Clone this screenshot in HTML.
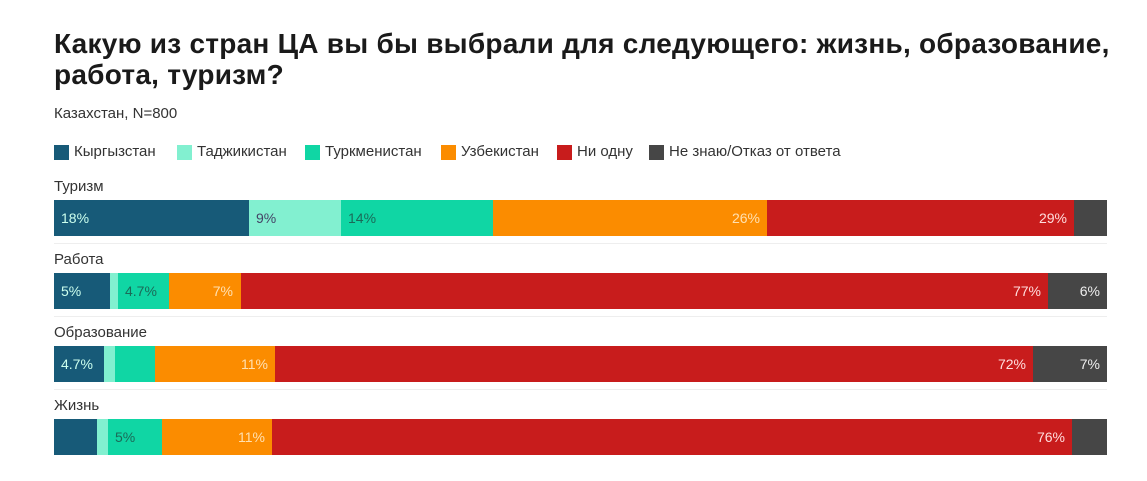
<!DOCTYPE html>
<html><head><meta charset="utf-8"><style>
body{margin:0;width:1147px;height:481px;background:#fff;position:relative;overflow:hidden;font-family:"Liberation Sans",Arial,sans-serif;}
.a{position:absolute;}
.t{left:54px;font-size:28px;letter-spacing:0.25px;font-weight:bold;color:#1a1a1a;white-space:nowrap;}
.s{font-size:15px;color:#333;white-space:nowrap;}
.lg{top:143px;font-size:15px;color:#333;white-space:nowrap;}
.sw{position:absolute;top:145px;width:15px;height:15px;}
.b{position:absolute;height:36px;}
.l{position:absolute;font-size:14px;line-height:36px;white-space:nowrap;}
.sep{position:absolute;left:54px;width:1053px;height:1px;background:#eee;}
</style></head><body>
<div class="a t" style="top:28px">Какую из стран ЦА вы бы выбрали для следующего: жизнь, образование,</div>
<div class="a t" style="top:59px">работа, туризм?</div>
<div class="a s" style="left:54px;top:105px">Казахстан, N=800</div>

<div class="sw" style="left:54px;background:#175a78"></div><div class="a lg" style="left:74px">Кыргызстан</div>
<div class="sw" style="left:177px;background:#82f0d0"></div><div class="a lg" style="left:197px">Таджикистан</div>
<div class="sw" style="left:305px;background:#10d6a4"></div><div class="a lg" style="left:325px">Туркменистан</div>
<div class="sw" style="left:441px;background:#fb8c00"></div><div class="a lg" style="left:461px">Узбекистан</div>
<div class="sw" style="left:557px;background:#c81c1c"></div><div class="a lg" style="left:577px">Ни одну</div>
<div class="sw" style="left:649px;background:#464646"></div><div class="a lg" style="left:669px">Не знаю/Отказ от ответа</div>

<div class="a s" style="left:54px;top:178px">Туризм</div>
<div class="b" style="top:200px;left:54px;width:195px;background:#175a78"></div>
<div class="b" style="top:200px;left:249px;width:92px;background:#82f0d0"></div>
<div class="b" style="top:200px;left:341px;width:152px;background:#10d6a4"></div>
<div class="b" style="top:200px;left:493px;width:274px;background:#fb8c00"></div>
<div class="b" style="top:200px;left:767px;width:307px;background:#c81c1c"></div>
<div class="b" style="top:200px;left:1074px;width:33px;background:#464646"></div>
<div class="l" style="top:200px;left:61px;color:#cfe">18%</div>
<div class="l" style="top:200px;left:256px;color:#446">9%</div>
<div class="l" style="top:200px;left:348px;color:#1b6a58">14%</div>
<div class="l" style="top:200px;right:387px;color:#ffe0b0">26%</div>
<div class="l" style="top:200px;right:80px;color:#fdd">29%</div>
<div class="sep" style="top:243px"></div>

<div class="a s" style="left:54px;top:251px">Работа</div>
<div class="b" style="top:273px;left:54px;width:56px;background:#175a78"></div>
<div class="b" style="top:273px;left:110px;width:8px;background:#82f0d0"></div>
<div class="b" style="top:273px;left:118px;width:51px;background:#10d6a4"></div>
<div class="b" style="top:273px;left:169px;width:72px;background:#fb8c00"></div>
<div class="b" style="top:273px;left:241px;width:807px;background:#c81c1c"></div>
<div class="b" style="top:273px;left:1048px;width:59px;background:#464646"></div>
<div class="l" style="top:273px;left:61px;color:#cfe">5%</div>
<div class="l" style="top:273px;left:125px;color:#1b6a58">4.7%</div>
<div class="l" style="top:273px;right:914px;color:#ffe0b0">7%</div>
<div class="l" style="top:273px;right:106px;color:#fdd">77%</div>
<div class="l" style="top:273px;right:47px;color:#eee">6%</div>
<div class="sep" style="top:316px"></div>

<div class="a s" style="left:54px;top:324px">Образование</div>
<div class="b" style="top:346px;left:54px;width:50px;background:#175a78"></div>
<div class="b" style="top:346px;left:104px;width:11px;background:#82f0d0"></div>
<div class="b" style="top:346px;left:115px;width:40px;background:#10d6a4"></div>
<div class="b" style="top:346px;left:155px;width:120px;background:#fb8c00"></div>
<div class="b" style="top:346px;left:275px;width:758px;background:#c81c1c"></div>
<div class="b" style="top:346px;left:1033px;width:74px;background:#464646"></div>
<div class="l" style="top:346px;left:61px;color:#cfe">4.7%</div>
<div class="l" style="top:346px;right:879px;color:#ffe0b0">11%</div>
<div class="l" style="top:346px;right:121px;color:#fdd">72%</div>
<div class="l" style="top:346px;right:47px;color:#eee">7%</div>
<div class="sep" style="top:389px"></div>

<div class="a s" style="left:54px;top:397px">Жизнь</div>
<div class="b" style="top:419px;left:54px;width:43px;background:#175a78"></div>
<div class="b" style="top:419px;left:97px;width:11px;background:#82f0d0"></div>
<div class="b" style="top:419px;left:108px;width:54px;background:#10d6a4"></div>
<div class="b" style="top:419px;left:162px;width:110px;background:#fb8c00"></div>
<div class="b" style="top:419px;left:272px;width:800px;background:#c81c1c"></div>
<div class="b" style="top:419px;left:1072px;width:35px;background:#464646"></div>
<div class="l" style="top:419px;left:115px;color:#1b6a58">5%</div>
<div class="l" style="top:419px;right:882px;color:#ffe0b0">11%</div>
<div class="l" style="top:419px;right:82px;color:#fdd">76%</div>
</body></html>
